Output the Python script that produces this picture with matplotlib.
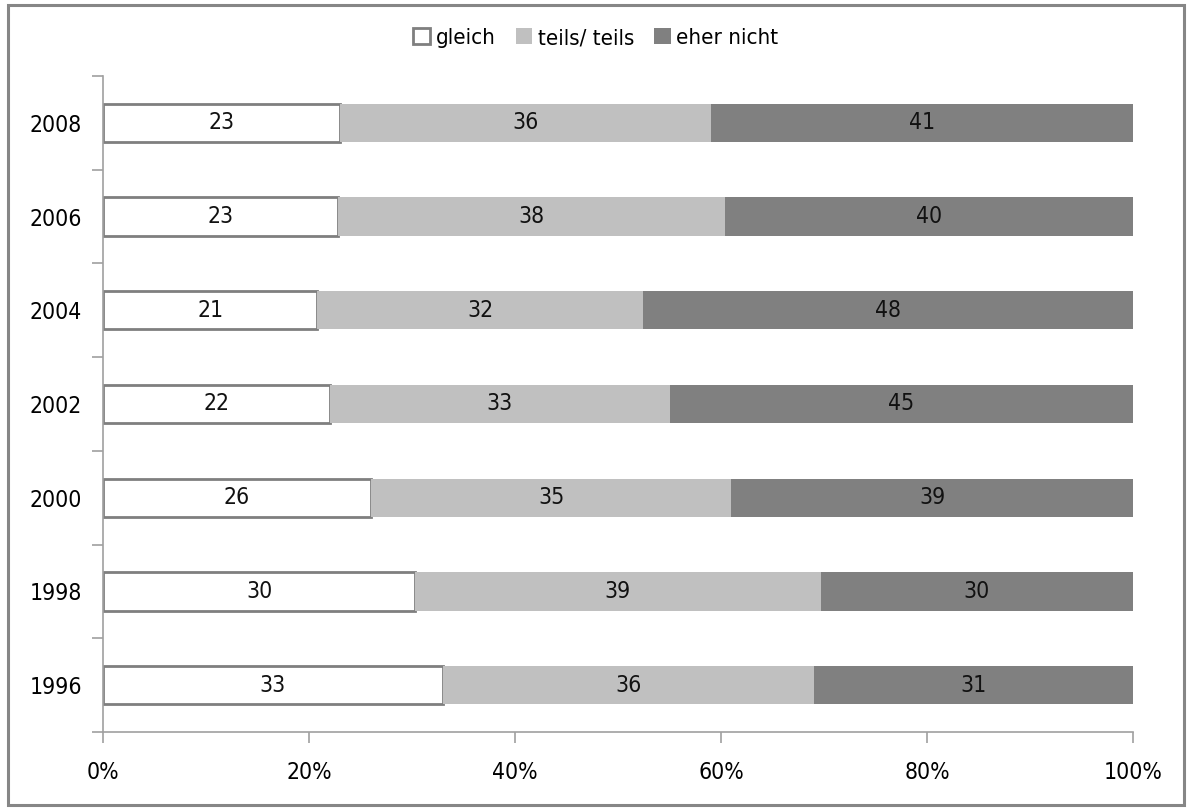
import matplotlib
matplotlib.use("Agg")
import matplotlib.pyplot as plt
import numpy as np
from matplotlib.patches import Rectangle

years = ['1996', '1998', '2000', '2002', '2004', '2006', '2008']
gleich = [33, 30, 26, 22, 21, 23, 23]
teils = [36, 39, 35, 33, 32, 38, 36]
eher_nicht = [31, 30, 39, 45, 48, 40, 41]
series_names = ['gleich', 'teils/ teils', 'eher nicht']
x_ticks = [0, 20, 40, 60, 80, 100]

plt.rcParams['font.family'] = ['DejaVu Sans']
plt.rcParams['font.stretch'] = 'condensed'

fig = plt.figure(figsize=(11.92, 8.09), dpi=100)
ax = fig.add_axes([103/1192, 1-732/809, 1030/1192, 656/809])

# outer frame of the chart area
fig.patches.append(Rectangle((8/1192, 4/809), 1176/1192, 800/809, transform=fig.transFigure,
                             fill=False, edgecolor='#868686', linewidth=2.2))

data = np.array([gleich, teils, eher_nicht], dtype=float)
shares = data / data.sum(axis=0) * 100
y = np.arange(len(years))
colors = ['white', '#C0C0C0', '#808080']
edges = ['#7f7f7f', 'none', 'none']
left = np.zeros(len(years))
handles = []
for i in range(3):
    b = ax.barh(y, shares[i], left=left, height=0.41, color=colors[i], edgecolor=edges[i],
                linewidth=2 if i == 0 else 0, label=series_names[i])
    handles.append(b)
    for j in range(len(years)):
        ax.text(left[j] + shares[i][j] / 2, y[j], str(int(data[i][j])), ha='center', va='center',
                fontsize=16.5, color='#111111')
    left += shares[i]

ax.set_xlim(0, 100)
ax.set_ylim(-0.5, len(years) - 0.5)
ax.set_xticks(x_ticks)
ax.set_xticklabels([f'{t}%' for t in x_ticks], fontsize=16.5)
ax.set_yticks(y)
ax.set_yticklabels(years, fontsize=16.5)
ax.set_yticks(np.arange(-0.5, len(years)), minor=True)
ax.tick_params(axis='y', which='major', length=0, pad=15)
ax.tick_params(axis='y', which='minor', length=8, color='#a0a0a0', width=1.2)
ax.tick_params(axis='x', length=8, color='#a0a0a0', width=1.2, pad=13)
for s in ['top', 'right']:
    ax.spines[s].set_visible(False)
for s in ['left', 'bottom']:
    ax.spines[s].set_color('#a0a0a0')
    ax.spines[s].set_linewidth(1.2)

fig.legend(handles=handles, labels=series_names, loc='center', bbox_to_anchor=(0.5, 1-38/809),
           ncol=3, frameon=False, fontsize=16, handlelength=0.75, handleheight=0.75,
           handletextpad=0.25, columnspacing=0.9)

fig.savefig('out.png', dpi=100)
